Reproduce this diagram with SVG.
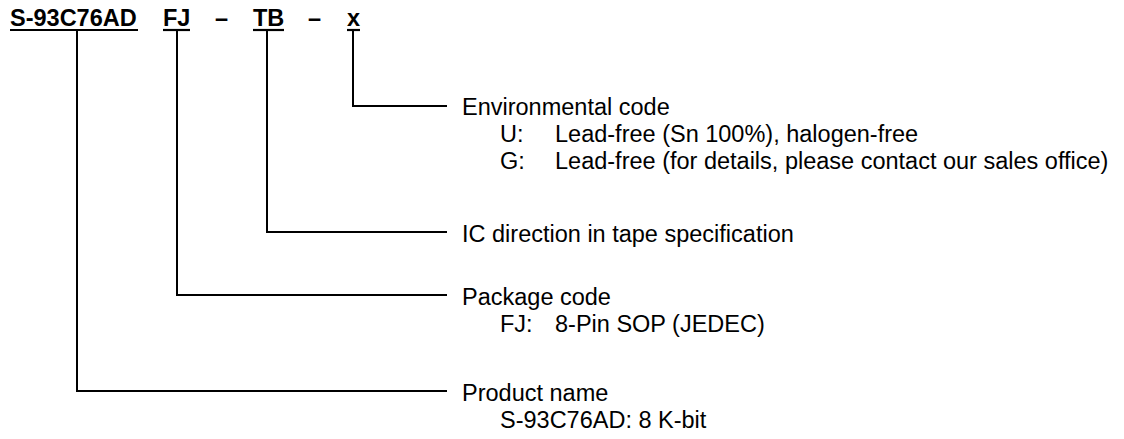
<svg xmlns="http://www.w3.org/2000/svg" width="1124" height="439" viewBox="0 0 1124 439">
<style>
text{font-family:"Liberation Sans",Arial,sans-serif;font-size:23.5px;fill:#000}
.b{font-weight:bold}
.ln{stroke:#000;stroke-width:2;fill:none}
.ul{stroke:#000;stroke-width:2.2}
</style>
<rect width="1124" height="439" fill="#fff"/>
<g id="code">
<text class="b" x="10" y="26">S-93C76AD</text>
<text class="b" x="163" y="26">FJ</text>
<text class="b" x="215" y="26">–</text>
<text class="b" x="253" y="26">TB</text>
<text class="b" x="308" y="26">–</text>
<text class="b" x="347" y="26">x</text>
<line class="ul" x1="10" y1="30" x2="138" y2="30"/>
<line class="ul" x1="163" y1="30" x2="190" y2="30"/>
<line class="ul" x1="253" y1="30" x2="284" y2="30"/>
<line class="ul" x1="347" y1="30" x2="360" y2="30"/>
</g>
<g id="connectors">
<polyline class="ln" points="353,31 353,106 447,106"/>
<polyline class="ln" points="267,31 267,232 447,232"/>
<polyline class="ln" points="177,31 177,295 447,295"/>
<polyline class="ln" points="77,31 77,391 447,391"/>
</g>
<g id="env">
<text x="462" y="115">Environmental code</text>
<text x="500" y="142">U:</text>
<text x="555" y="142">Lead-free (Sn 100%), halogen-free</text>
<text x="500" y="169">G:</text>
<text x="555" y="169">Lead-free (for details, please contact our sales office)</text>
</g>
<g id="direction">
<text x="462" y="242">IC direction in tape specification</text>
</g>
<g id="package">
<text x="462" y="305">Package code</text>
<text x="500" y="332">FJ:</text>
<text x="555" y="332">8-Pin SOP (JEDEC)</text>
</g>
<g id="product">
<text x="462" y="401">Product name</text>
<text x="500" y="428">S-93C76AD: 8 K-bit</text>
</g>
</svg>
